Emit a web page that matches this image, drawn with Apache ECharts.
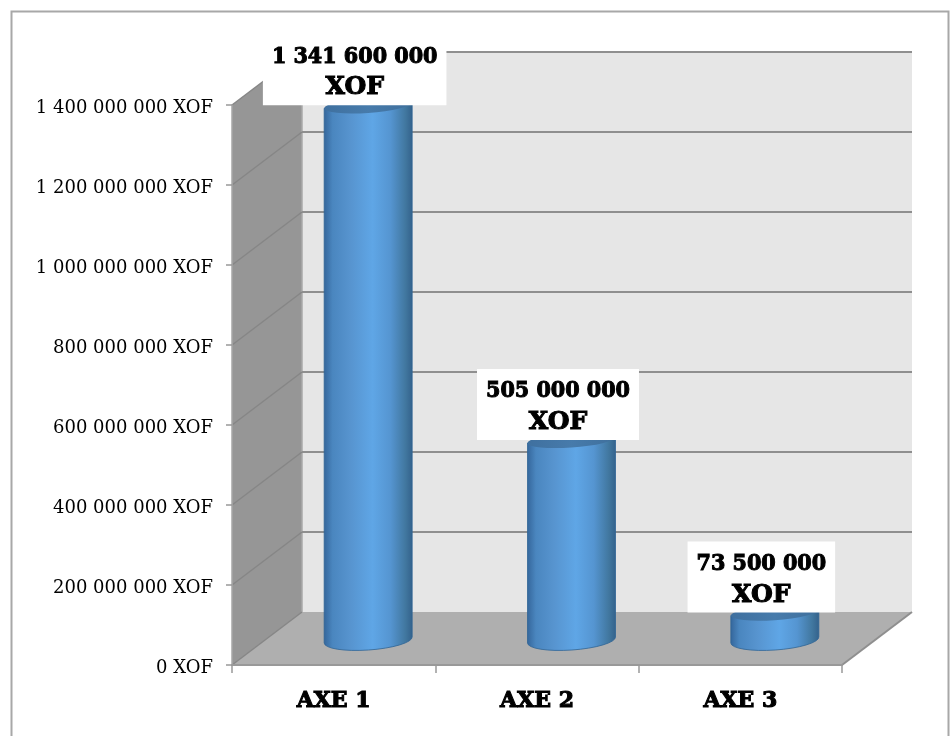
<!DOCTYPE html>
<html><head><meta charset="utf-8">
<style>html,body{margin:0;padding:0;background:#fff}#c{width:952px;height:736px}</style>
<script src="https://cdn.jsdelivr.net/npm/echarts@6/dist/echarts.min.js"></script>
</head><body><div id="c"></div>
<script>
var categories = ['AXE 1', 'AXE 2', 'AXE 3'];
var values = [1341600000, 505000000, 73500000];
var yTicks = [0, 200000000, 400000000, 600000000, 800000000, 1000000000, 1200000000, 1400000000];
var unit = 'XOF';

var DX = 70, DY = -53;
function num(v) { return String(v).replace(/\B(?=(\d{3})+$)/g, ' '); }
function fmt(v) { return num(v) + ' ' + unit; }
var FONT_NUM = 'bold 23px "DejaVu Serif Condensed","DejaVu Serif"';
var FONT_UNIT = 'bold 25px "DejaVu Serif"';

var chart = echarts.init(document.getElementById('c'), null, {renderer: 'canvas'});
chart.setOption({
  animation: false,
  backgroundColor: '#fff',
  graphic: [{type: 'rect', silent: true, z: -1, shape: {x: 11.5, y: 11.5, width: 937, height: 780},
    style: {fill: 'none', stroke: '#a8a8a8', lineWidth: 2}}],
  grid: {left: 232, right: 110, top: 105, bottom: 71, containLabel: false},
  xAxis: {
    type: 'category', data: categories, z: 6,
    axisLine: {show: true, lineStyle: {color: '#999', width: 2}},
    axisTick: {show: true, length: 8, lineStyle: {color: '#999', width: 1.5}},
    axisLabel: {color: '#000', fontFamily: 'DejaVu Serif', fontWeight: 'bold', fontSize: 22, margin: 25,
      textBorderColor: '#000', textBorderWidth: 1.1}
  },
  yAxis: {
    type: 'value', min: 0, max: 1400000000, interval: 200000000, z: 6,
    axisLine: {show: true, lineStyle: {color: '#a6a6a6', width: 1.5}},
    axisTick: {show: true, length: 6, lineStyle: {color: '#999', width: 1.5}},
    splitLine: {show: false},
    axisLabel: {color: '#000', fontFamily: 'DejaVu Serif', fontSize: 18, margin: 19, verticalAlign: 'top', lineHeight: 6, formatter: fmt}
  },
  series: [
    { type: 'custom', coordinateSystem: 'cartesian2d', z: 1, silent: true, data: [[0, 0]],
      renderItem: function (p, api) {
        var g = p.coordSys, xl = g.x, xr = g.x + g.width, yb = g.y + g.height, yt = g.y;
        return {type: 'group', children: [
          {type: 'polygon', shape: {points: [[xl + DX, yt + DY], [xr + DX, yt + DY], [xr + DX, yb + DY], [xl + DX, yb + DY]]}, style: {fill: '#e6e6e6'}},
          {type: 'polygon', shape: {points: [[xl, yt], [xl + DX, yt + DY], [xl + DX, yb + DY], [xl, yb]]}, style: {fill: '#969696'}},
          {type: 'polygon', shape: {points: [[xl, yb], [xl + DX, yb + DY], [xr + DX, yb + DY], [xr, yb]]}, style: {fill: '#afafaf'}},
          {type: 'line', shape: {x1: xl + DX, y1: yt + DY, x2: xl + DX, y2: yb + DY}, style: {stroke: '#a8a8a8', lineWidth: 1.5}},
          {type: 'line', shape: {x1: xr, y1: yb, x2: xr + DX, y2: yb + DY}, style: {stroke: '#8f8f8f', lineWidth: 2}}
        ]};
      }
    },
    { type: 'custom', coordinateSystem: 'cartesian2d', z: 2, silent: true,
      data: yTicks.map(function (v) { return [0, v]; }),
      renderItem: function (p, api) {
        var g = p.coordSys, xl = g.x, xr = g.x + g.width;
        var y = api.coord([0, api.value(1)])[1];
        var back = {type: 'line', shape: {x1: xl + DX, y1: y + DY, x2: xr + DX, y2: y + DY}, style: {stroke: '#8f8f8f', lineWidth: 2}};
        var side = {type: 'line', shape: {x1: xl, y1: y, x2: xl + DX, y2: y + DY}, style: {stroke: '#868686', lineWidth: 1.5}};
        return {type: 'group', children: api.value(1) === 0 ? [side] : [back, side]};
      }
    },
    { type: 'custom', coordinateSystem: 'cartesian2d', z: 3, silent: true,
      data: values.map(function (v, i) { return [i, v]; }),
      renderItem: function (p, api) {
        var top = api.coord([api.value(0), api.value(1)]);
        var base = api.coord([api.value(0), 0]);
        var cx = top[0] + 34.5, rx = 44, tilt = 3;
        var yT = top[1] - 23, yB = base[1] - 25;
        var l = cx - rx, r = cx + rx;
        var body = 'M' + l + ' ' + (yT + tilt) + ' L' + l + ' ' + (yB + tilt) +
          ' A' + rx + ' 10 -4 0 0 ' + r + ' ' + (yB - tilt) +
          ' L' + r + ' ' + (yT - tilt) + ' Z';
        var cap = 'M' + l + ' ' + (yT + tilt) + ' A' + rx + ' 7.5 -4 0 0 ' + r + ' ' + (yT - tilt) +
          ' A' + rx + ' 7.5 -4 0 0 ' + l + ' ' + (yT + tilt) + ' Z';
        return {type: 'group', children: [
          {type: 'path', shape: {pathData: body}, style: {
            stroke: '#2f6496', lineWidth: 0.8,
            fill: {type: 'linear', x: 0, y: 0, x2: 1, y2: 0, colorStops: [
              {offset: 0, color: '#34659a'}, {offset: 0.1, color: '#4a86bf'}, {offset: 0.3, color: '#5794cf'},
              {offset: 0.55, color: '#5fa6e6'}, {offset: 0.75, color: '#5595d1'}, {offset: 0.92, color: '#41779f'}, {offset: 1, color: '#33618b'}]}
          }},
          {type: 'path', shape: {pathData: cap}, style: {
            fill: {type: 'linear', x: 0, y: 0, x2: 1, y2: 0, colorStops: [
              {offset: 0, color: '#3f709f'}, {offset: 0.5, color: '#477bab'}, {offset: 1, color: '#3f6f9c'}]}
          }}
        ]};
      }
    },
    { type: 'custom', coordinateSystem: 'cartesian2d', z: 5, silent: true,
      data: values.map(function (v, i) { return [i, v]; }),
      renderItem: function (p, api) {
        var top = api.coord([api.value(0), api.value(1)]);
        var x = top[0] + 21, yBox = top[1] - 23, s = num(api.value(1));
        return {type: 'group', children: [
          {type: 'text', z2: 1, style: {
            text: '{a|' + s + '}\n{b|' + unit + '}', x: x, y: yBox,
            align: 'center', verticalAlign: 'bottom', fill: 'transparent',
            rich: {
              a: {font: FONT_NUM, lineHeight: 31, fill: 'transparent'},
              b: {font: FONT_UNIT, lineHeight: 31, fill: 'transparent'}
            },
            backgroundColor: '#fff', padding: [6, 9, 3, 9]
          }},
          {type: 'text', z2: 2, style: {text: s, x: x, y: yBox - 48.5, align: 'center', verticalAlign: 'middle',
            font: FONT_NUM, fill: '#000', stroke: '#000', lineWidth: 1}},
          {type: 'text', z2: 2, style: {text: unit, x: x, y: yBox - 17.5, align: 'center', verticalAlign: 'middle',
            font: FONT_UNIT, fill: '#000', stroke: '#000', lineWidth: 1.1}}
        ]};
      }
    }
  ]
});
</script></body></html>
